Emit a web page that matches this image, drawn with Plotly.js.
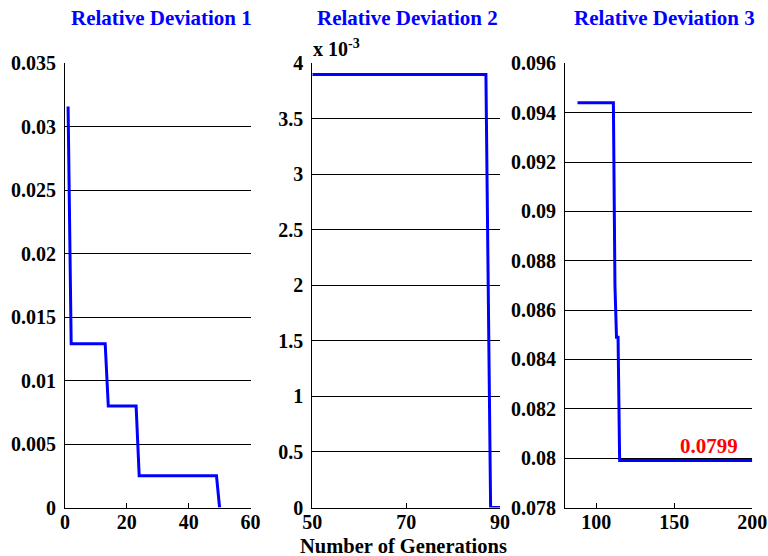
<!DOCTYPE html>
<html>
<head>
<meta charset="utf-8">
<script src="https://cdn.plot.ly/plotly-3.0.1.min.js"></script>
<style>html,body{margin:0;padding:0;background:#fff;}#chart{width:768px;height:556px;}</style>
</head>
<body>
<div id="chart"></div>
<script>
// Panel 1: Relative Deviation 1
const gen1 = [1, 2, 13, 14, 23, 24, 49, 50];
const dev1 = [0.0316, 0.0129, 0.0129, 0.0080, 0.0080, 0.0025, 0.0025, 0];
// Panel 2: Relative Deviation 2
const gen2 = [50, 87, 88, 90];
const dev2 = [0.0039, 0.0039, 0, 0];
// Panel 3: Relative Deviation 3
const gen3 = [88, 111, 112, 113, 114, 115, 200];
const dev3 = [0.0944, 0.0944, 0.0870, 0.0849, 0.0849, 0.0799, 0.0799];

const titles = ["Relative Deviation 1", "Relative Deviation 2", "Relative Deviation 3"];
const xTitle = "Number of Generations";
const finalLabel = "0.0799";

const xTicks1 = [0, 20, 40, 60];
const yTicks1 = [0, 0.005, 0.01, 0.015, 0.02, 0.025, 0.03, 0.035];
const yTickText1 = ["0", "0.005", "0.01", "0.015", "0.02", "0.025", "0.03", "0.035"];
const xTicks2 = [50, 70, 90];
const yTicks2 = [0, 0.0005, 0.001, 0.0015, 0.002, 0.0025, 0.003, 0.0035, 0.004];
const yTickText2 = ["0", "0.5", "1", "1.5", "2", "2.5", "3", "3.5", "4"];
const xTicks3 = [100, 150, 200];
const yTicks3 = [0.078, 0.08, 0.082, 0.084, 0.086, 0.088, 0.09, 0.092, 0.094, 0.096];
const yTickText3 = ["0.078", "0.08", "0.082", "0.084", "0.086", "0.088", "0.09", "0.092", "0.094", "0.096"];

const W = 768, H = 556;
const font = {family: "Liberation Serif", size: 20, color: "#000", weight: "bold"};
const blue = "#0000ff";

function line(x, y, xa, ya) {
  return {x: x, y: y, xaxis: xa, yaxis: ya, type: "scatter", mode: "lines",
          line: {color: blue, width: 3}, hoverinfo: "skip", showlegend: false};
}

const yDom = [1 - 507.5 / H, 1 - 63.3 / H];
function xAx(dom, range, ticks) {
  return {domain: dom, range: range, tickmode: "array", tickvals: ticks,
          ticktext: ticks.map(String), showgrid: false, zeroline: false,
          showline: true, linecolor: "#000", linewidth: 1, ticks: "inside",
          ticklen: 5, tickcolor: "#000", tickfont: font, fixedrange: true,
          ticklabelstandoff: -4};
}
function yAx(anchor, range, ticks, text) {
  return {domain: yDom, anchor: anchor, range: range, tickmode: "array", tickvals: ticks,
          ticktext: text, showgrid: true, gridcolor: "#000", gridwidth: 1,
          zeroline: false, showline: true, linecolor: "#000", linewidth: 1,
          ticks: "", tickfont: font, fixedrange: true, ticklabelstandoff: 4};
}

const data = [
  line(gen1, dev1, "x", "y"),
  line(gen2, dev2, "x2", "y2"),
  line(gen3, dev3, "x3", "y3")
];

const titleFont = {family: font.family, size: 21, color: blue, weight: "bold"};

const layout = {
  width: W, height: H,
  margin: {l: 0, r: 0, t: 0, b: 0},
  paper_bgcolor: "#fff", plot_bgcolor: "#fff",
  showlegend: false,
  xaxis: xAx([65 / W, 250.5 / W], [0, 60], xTicks1),
  yaxis: yAx("x", [0, 0.035], yTicks1, yTickText1),
  xaxis2: Object.assign(xAx([312.3 / W, 500 / W], [50, 90], xTicks2), {anchor: "y2"}),
  yaxis2: yAx("x2", [0, 0.004], yTicks2, yTickText2),
  xaxis3: Object.assign(xAx([565 / W, 752.3 / W], [80, 200], xTicks3), {anchor: "y3"}),
  yaxis3: yAx("x3", [0.078, 0.096], yTicks3, yTickText3),
  annotations: [
    {text: titles[0], xref: "paper", yref: "paper", x: 161 / W, y: 1 - 17.5 / H,
     xanchor: "center", yanchor: "middle", showarrow: false, font: titleFont},
    {text: titles[1], xref: "paper", yref: "paper", x: 407 / W, y: 1 - 17.5 / H,
     xanchor: "center", yanchor: "middle", showarrow: false, font: titleFont},
    {text: titles[2], xref: "paper", yref: "paper", x: 664.5 / W, y: 1 - 17.5 / H,
     xanchor: "center", yanchor: "middle", showarrow: false, font: titleFont},
    {text: xTitle, xref: "paper", yref: "paper", x: 403.5 / W, y: 1 - 545.5 / H,
     xanchor: "center", yanchor: "middle", showarrow: false,
     font: Object.assign({}, font, {size: 20.5})},
    {text: "x 10<sup>-3</sup>", xref: "paper", yref: "paper", x: 311 / W, y: 1 - 48 / H,
     xanchor: "left", yanchor: "middle", showarrow: false, font: font},
    {text: finalLabel, xref: "x3", yref: "y3", x: 172, y: 0.0805,
     xanchor: "center", yanchor: "middle", showarrow: false,
     font: {family: font.family, size: 21, color: "#ff0000", weight: "bold"}}
  ]
};

Plotly.newPlot("chart", data, layout, {staticPlot: true, displayModeBar: false});
</script>
</body>
</html>
